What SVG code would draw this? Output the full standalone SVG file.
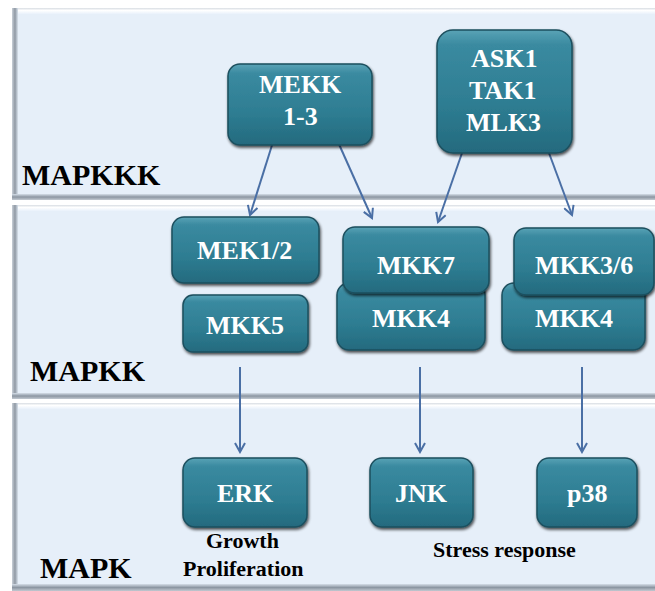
<svg xmlns="http://www.w3.org/2000/svg" width="655" height="591" viewBox="0 0 655 591">
<defs>
<linearGradient id="boxg" x1="0" y1="0" x2="0" y2="1">
<stop offset="0" stop-color="#5aa3b6"/>
<stop offset="0.12" stop-color="#3a8aa0"/>
<stop offset="0.6" stop-color="#2e7d92"/>
<stop offset="1" stop-color="#246a7e"/>
</linearGradient>
<linearGradient id="leftg" x1="0" y1="0" x2="1" y2="0">
<stop offset="0" stop-color="#c9d0d8"/>
<stop offset="0.5" stop-color="#8f98a3"/>
<stop offset="1" stop-color="#d8e2ec"/>
</linearGradient>
<linearGradient id="botg" x1="0" y1="0" x2="0" y2="1">
<stop offset="0" stop-color="#d5dee8"/>
<stop offset="0.5" stop-color="#8c96a2"/>
<stop offset="1" stop-color="#c2c9d1"/>
</linearGradient>
<linearGradient id="topg" x1="0" y1="0" x2="0" y2="1">
<stop offset="0" stop-color="#d8dde3"/>
<stop offset="0.4" stop-color="#ffffff"/>
<stop offset="1" stop-color="#e9f1fb"/>
</linearGradient>
<filter id="sh" x="-10%" y="-10%" width="125%" height="130%">
<feGaussianBlur in="SourceAlpha" stdDeviation="1.5"/>
<feOffset dx="1" dy="2" result="b"/>
<feComponentTransfer><feFuncA type="linear" slope="0.7"/></feComponentTransfer>
<feMerge><feMergeNode/><feMergeNode in="SourceGraphic"/></feMerge>
</filter>
<marker id="ah" viewBox="0 0 12 12" refX="10" refY="6" markerWidth="12" markerHeight="12" markerUnits="userSpaceOnUse" orient="auto">
<path d="M1,1 L10,6 L1,11" fill="none" stroke="#4a6fa5" stroke-width="2"/>
</marker>
</defs>
<style>
.box{fill:url(#boxg);stroke:#1d4f5e;stroke-width:1.5;filter:url(#sh)}
.bt{font-size:30px;fill:#ffffff;font-weight:bold}
.lab{fill:#000000;font-size:30px;font-weight:bold}
.sub{font-size:30px;fill:#000000;font-weight:bold}
.conn line{stroke:#4a6fa5;stroke-width:2;marker-end:url(#ah)}
.pan{fill:#e6eff9}
</style>
<rect width="655" height="591" fill="#ffffff"/>
<g id="panel-mapkkk">
<rect class="pan" x="12" y="8" width="643" height="192"/>
<rect x="12" y="8" width="643" height="6" fill="url(#topg)"/>
<rect x="12" y="8" width="6" height="192" fill="url(#leftg)"/>
<rect x="12" y="194" width="643" height="6" fill="url(#botg)"/>
<text class="lab" font-family="Liberation Serif" x="22" y="185">MAPKKK</text>
</g>
<g id="panel-mapkk">
<rect class="pan" x="12" y="205" width="643" height="194"/>
<rect x="12" y="205" width="643" height="6" fill="url(#topg)"/>
<rect x="12" y="205" width="6" height="194" fill="url(#leftg)"/>
<rect x="12" y="393" width="643" height="6" fill="url(#botg)"/>
<text class="lab" font-family="Liberation Serif" x="30" y="381">MAPKK</text>
</g>
<g id="panel-mapk">
<rect class="pan" x="12" y="403" width="643" height="188"/>
<rect x="12" y="403" width="643" height="6" fill="url(#topg)"/>
<rect x="12" y="403" width="6" height="188" fill="url(#leftg)"/>
<rect x="12" y="584" width="643" height="7" fill="url(#botg)"/>
<text class="lab" font-family="Liberation Serif" x="40" y="578">MAPK</text>
</g>
<g id="connectors" class="conn">
<line x1="273" y1="142" x2="250" y2="215"/>
<line x1="338" y1="142" x2="372" y2="218"/>
<line x1="462" y1="153" x2="438" y2="222"/>
<line x1="549" y1="153" x2="572" y2="215"/>
<line x1="240" y1="367" x2="240" y2="452"/>
<line x1="420" y1="367" x2="420" y2="452"/>
<line x1="582" y1="367" x2="582" y2="452"/>
</g>
<g id="node-mekk">
<rect class="box" x="228" y="64" width="144" height="81" rx="12"/>
<text class="bt" font-family="Liberation Serif" transform="translate(259,93) scale(0.8667)">MEKK</text>
<text class="bt" font-family="Liberation Serif" transform="translate(283,125) scale(0.8667)">1-3</text>
</g>
<g id="node-ask1">
<rect class="box" x="437" y="30" width="135" height="123" rx="16"/>
<text class="bt" font-family="Liberation Serif" transform="translate(471,67) scale(0.8667)">ASK1</text>
<text class="bt" font-family="Liberation Serif" transform="translate(469,99) scale(0.8667)">TAK1</text>
<text class="bt" font-family="Liberation Serif" transform="translate(466,131) scale(0.8667)">MLK3</text>
</g>
<g id="node-mek12">
<rect class="box" x="172" y="217" width="147" height="66" rx="12"/>
<text class="bt" font-family="Liberation Serif" transform="translate(197,259) scale(0.8667)">MEK1/2</text>
</g>
<g id="node-mkk5">
<rect class="box" x="183" y="295" width="125" height="57" rx="10"/>
<text class="bt" font-family="Liberation Serif" transform="translate(206,334) scale(0.8667)">MKK5</text>
</g>
<g id="node-mkk4-jnk">
<rect class="box" x="337" y="283" width="148" height="67" rx="12"/>
<text class="bt" font-family="Liberation Serif" transform="translate(372,327) scale(0.8667)">MKK4</text>
</g>
<g id="node-mkk7">
<rect class="box" x="343" y="227" width="146" height="66" rx="12"/>
<text class="bt" font-family="Liberation Serif" transform="translate(377,274) scale(0.8667)">MKK7</text>
</g>
<g id="node-mkk4-p38">
<rect class="box" x="502" y="283" width="143" height="67" rx="12"/>
<text class="bt" font-family="Liberation Serif" transform="translate(535,327) scale(0.8667)">MKK4</text>
</g>
<g id="node-mkk36">
<rect class="box" x="514" y="228" width="140" height="67" rx="12"/>
<text class="bt" font-family="Liberation Serif" transform="translate(535,274) scale(0.8667)">MKK3/6</text>
</g>
<g id="node-erk">
<rect class="box" x="183" y="458" width="124" height="69" rx="12"/>
<text class="bt" font-family="Liberation Serif" transform="translate(217,502) scale(0.8667)">ERK</text>
</g>
<g id="node-jnk">
<rect class="box" x="370" y="458" width="103" height="69" rx="12"/>
<text class="bt" font-family="Liberation Serif" transform="translate(395,502) scale(0.8667)">JNK</text>
</g>
<g id="node-p38">
<rect class="box" x="537" y="458" width="100" height="69" rx="12"/>
<text class="bt" font-family="Liberation Serif" transform="translate(567,502) scale(0.8667)">p38</text>
</g>
<g id="annotations">
<text class="sub" font-family="Liberation Serif" transform="translate(206,548) scale(0.7333)">Growth</text>
<text class="sub" font-family="Liberation Serif" transform="translate(183,576) scale(0.7333)">Proliferation</text>
<text class="sub" font-family="Liberation Serif" transform="translate(433,557) scale(0.7333)">Stress response</text>
</g>
</svg>
